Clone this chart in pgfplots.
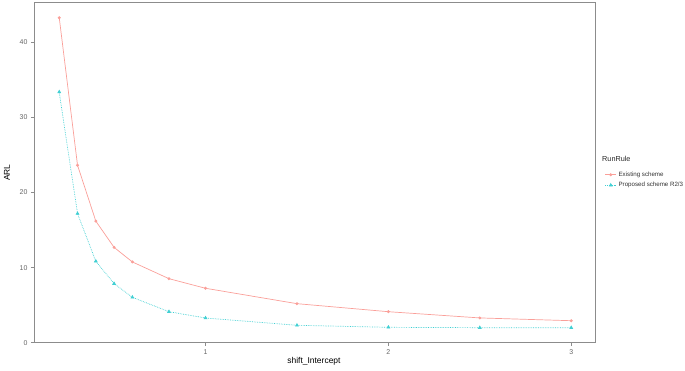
\documentclass[border=0pt]{standalone}
\usepackage{pgfplots}
\pgfplotsset{compat=1.18}
\usepackage{fontspec}
\setmainfont{Liberation Sans}
\definecolor{exist}{HTML}{F8766D}
\definecolor{prop}{HTML}{00BFC4}
\begin{document}
\begin{tikzpicture}
\path[use as bounding box] (-34bp,-28.3bp) rectangle (651bp,342.7bp);
\begin{axis}[
  scale only axis,
  width=561bp, height=340bp,
  xmin=0.062, xmax=3.13,
  ymin=0, ymax=45.3,
  xtick={1,2,3}, ytick={0,10,20,30,40},
  axis line style={draw=black!45, line width=0.6pt},
  tick style={draw=black!45, line width=0.5pt},
  tick align=outside, major tick length=3bp,
  xtick pos=bottom, ytick pos=left,
  ticklabel style={font=\fontsize{7}{8}\selectfont, text=black!60},
  /pgf/number format/assume math mode=true,
  xlabel={shift\_Intercept}, ylabel={ARL},
  label style={font=\fontsize{8.5}{10}\selectfont},
  xlabel style={at={(axis description cs:0.499,0)}, anchor=north, yshift=-11bp},
  ylabel style={at={(axis description cs:-0.048,0.5)}, anchor=center, rotate=0},
  legend style={at={(rel axis cs:1.012,0.515)}, anchor=north west, draw=none, fill=none,
    font=\fontsize{6.2}{7}\selectfont, row sep=0.5pt, text=black!80},
  legend cell align=left,
  legend image code/.code={\draw[#1] (0bp,0bp) -- (11bp,0bp); \draw[#1, mark repeat=1] plot coordinates {(5.5bp,0bp)};},
]
\addplot[exist!70!white, line width=0.7pt, mark=*, mark size=1.1pt, mark options={solid}] coordinates {
(0.2,43.3) (0.3,23.65) (0.4,16.2) (0.5,12.7) (0.6,10.76) (0.8,8.53) (1,7.25) (1.5,5.2) (2,4.13) (2.5,3.3) (3,2.93)};
\addlegendentry{Existing scheme}
\addplot[prop!75!white, line width=0.7pt, densely dotted, mark=triangle*, mark size=1.6pt, mark options={solid}] coordinates {
(0.2,33.4) (0.3,17.2) (0.4,10.85) (0.5,7.87) (0.6,6.05) (0.8,4.13) (1,3.29) (1.5,2.32) (2,2.05) (2.5,2.0) (3,2.0)};
\addlegendentry{Proposed scheme R2/3}
\end{axis}
\node[anchor=west, font=\fontsize{7.3}{8}\selectfont, text=black!85, inner sep=0pt] at (568bp,183.7bp) {RunRule};
\end{tikzpicture}
\end{document}
